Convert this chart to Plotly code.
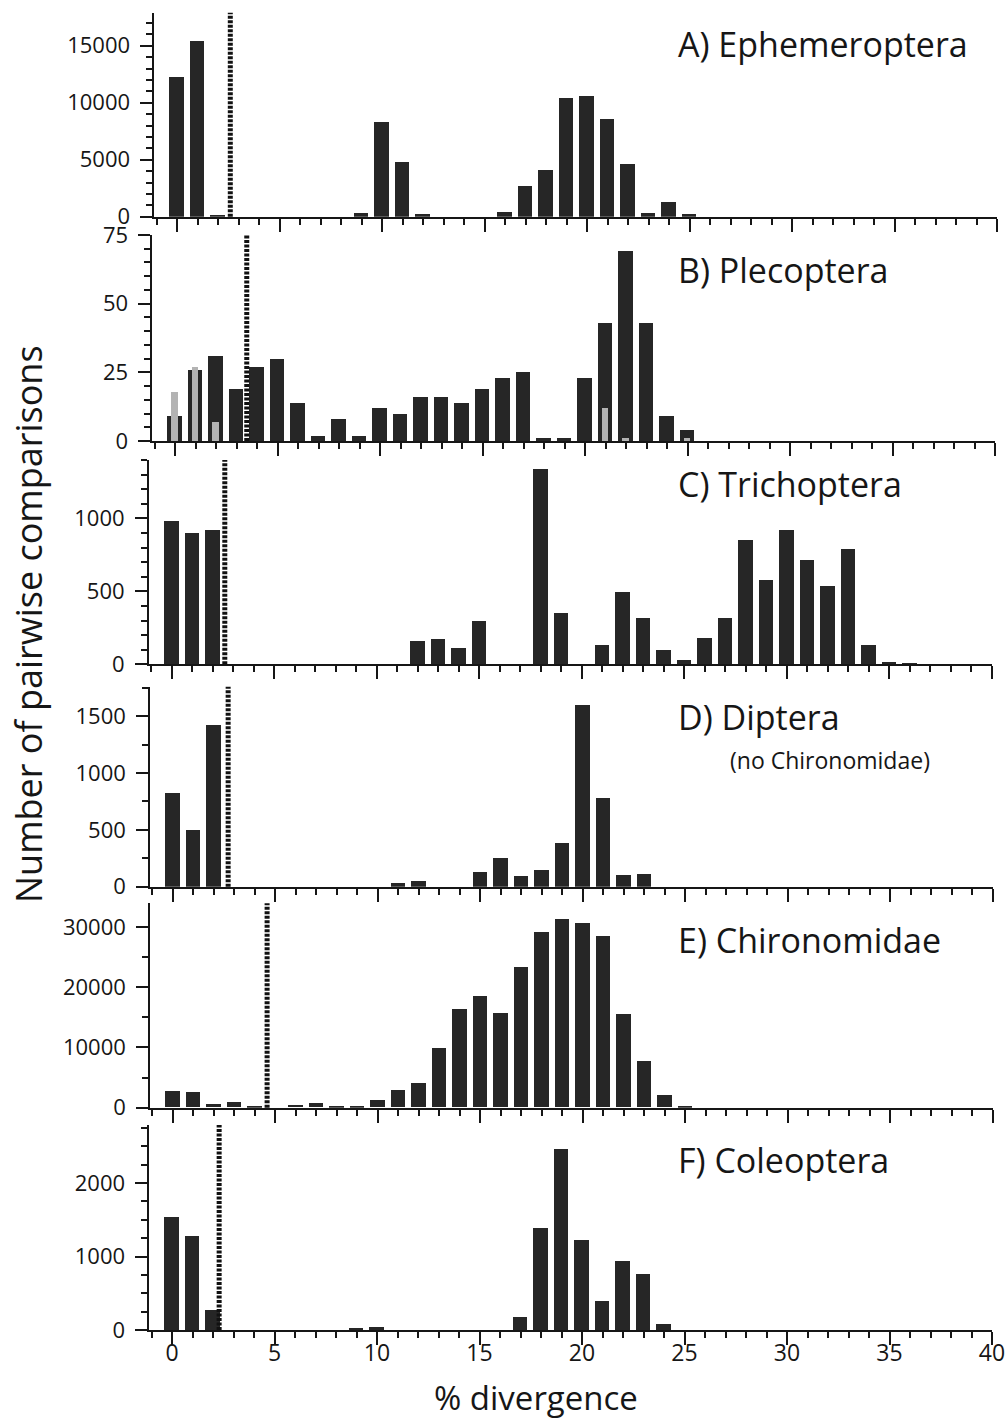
import plotly.graph_objects as go

# ---- pairwise divergence histograms (1 % bins) ----
ephem_bins = [0, 1, 2, 9, 10, 11, 12, 16, 17, 18, 19, 20, 21, 22, 23, 24, 25]
ephem_counts = [12250, 15440, 200, 350, 8360, 4830, 230, 440, 2720, 4150,
                10470, 10640, 8630, 4650, 350, 1290, 230]

plec_bins = list(range(0, 26))
plec_counts = [9, 26, 31, 19, 27, 30, 14, 2, 8, 2, 12, 10, 16, 16, 14, 19,
               23, 25, 1, 1, 23, 43, 69, 43, 9, 4]
plec_sub_bins = [0, 1, 2, 21, 22, 25]
plec_sub_counts = [18, 27, 7, 12, 1, 1]

trich_bins = [0, 1, 2, 12, 13, 14, 15, 18, 19, 21, 22, 23, 24, 25, 26, 27,
              28, 29, 30, 31, 32, 33, 34, 35, 36]
trich_counts = [980, 900, 920, 160, 175, 115, 300, 1340, 350, 135, 495, 320,
                100, 27, 180, 320, 855, 575, 920, 715, 535, 790, 135, 16, 9]

dipt_bins = [0, 1, 2, 11, 12, 15, 16, 17, 18, 19, 20, 21, 22, 23]
dipt_counts = [825, 500, 1430, 32, 50, 130, 255, 100, 150, 385, 1605, 782,
               108, 117]

chiro_bins = [0, 1, 2, 3, 4, 6, 7, 8, 9, 10, 11, 12, 13, 14, 15, 16, 17, 18,
              19, 20, 21, 22, 23, 24, 25]
chiro_counts = [2670, 2500, 610, 890, 80, 390, 720, 80, 220, 1280, 2840, 4120,
                9900, 16360, 18420, 15690, 23320, 29100, 31270, 30660, 28440,
                15530, 7680, 2060, 100]

cole_bins = [0, 1, 2, 9, 10, 17, 18, 19, 20, 21, 22, 23, 24]
cole_counts = [1535, 1275, 275, 23, 37, 174, 1393, 2470, 1224, 393, 945, 758, 87]

# threshold (% divergence) drawn as a dotted line in each panel
thresholds = [2.6, 3.5, 2.6, 2.7, 4.6, 2.3]

panel_titles = ["A) Ephemeroptera", "B) Plecoptera", "C) Trichoptera",
                "D) Diptera", "E) Chironomidae", "F) Coleoptera"]
y_max = [17900, 75, 1400, 1760, 33900, 2790]
y_major = [5000, 25, 500, 500, 10000, 1000]
y_minor = [1000, 5, 100, 250, 5000, 250]
x_tick_labels = ["0", "5", "10", "15", "20", "25", "30", "35", "40"]

series = [
    (ephem_bins, ephem_counts),
    (plec_bins, plec_counts),
    (trich_bins, trich_counts),
    (dipt_bins, dipt_counts),
    (chiro_bins, chiro_counts),
    (cole_bins, cole_counts),
]

# ---- page geometry (pixels) ----
W, H = 1007, 1422
PX_PER_PCT = 20.5
XMIN, XMAX = -1.1, 40
# (pixel of 0 %, pixel row of y = 0, pixel row of top of y axis)
frames = [
    (177.0, 216.7, 12.7),
    (175.0, 441.0, 235.0),
    (171.5, 664.3, 460.0),
    (172.8, 886.7, 686.7),
    (172.8, 1107.7, 903.3),
    (172.0, 1330.0, 1125.0),
]
title_rows = [44, 270, 484, 717, 940, 1160]

FONT = "Open Sans"
INK = "#161616"
BAR = "#262626"
SUB = "#b3b3b3"

fig = go.Figure()
layout = {}
shapes = []
annotations = []

for i, ((bins, counts), frame) in enumerate(zip(series, frames), start=1):
    sx = "" if i == 1 else str(i)
    x0, zero_px, top_px = frame
    left = x0 + XMIN * PX_PER_PCT
    right = x0 + XMAX * PX_PER_PCT

    fig.add_trace(go.Bar(x=bins, y=counts, width=0.7, marker_color=BAR,
                         marker_line_width=0, xaxis="x" + sx, yaxis="y" + sx,
                         showlegend=False, hoverinfo="x+y"))
    if i == 2:
        fig.add_trace(go.Bar(x=plec_sub_bins, y=plec_sub_counts, width=0.33,
                             marker_color=SUB, marker_line_width=0,
                             xaxis="x" + sx, yaxis="y" + sx,
                             showlegend=False, hoverinfo="x+y"))

    last = i == len(series)
    layout["xaxis" + sx] = dict(
        domain=[left / W, right / W], anchor="y" + sx, range=[XMIN, XMAX],
        automargin=False,
        showline=True, linewidth=2, linecolor=INK, mirror=False,
        showgrid=False, zeroline=False,
        ticks="outside", ticklen=13, tickwidth=2, tickcolor=INK,
        tickmode="array", tickvals=[int(t) for t in x_tick_labels],
        ticktext=x_tick_labels, showticklabels=last,
        tickfont=dict(family=FONT, size=23, color=INK),
        ticklabelstandoff=-12,
        minor=dict(dtick=1, tick0=0, ticks="outside", ticklen=6,
                   tickwidth=1.5, tickcolor=INK),
        fixedrange=True,
    )
    layout["yaxis" + sx] = dict(
        domain=[1 - zero_px / H, 1 - top_px / H], anchor="x" + sx,
        range=[0, y_max[i - 1]], automargin=False,
        showline=True, linewidth=2, linecolor=INK,
        showgrid=False, zeroline=False,
        ticks="outside", ticklen=12, tickwidth=2, tickcolor=INK,
        tick0=0, dtick=y_major[i - 1], tickformat="d",
        tickfont=dict(family=FONT, size=22, color=INK),
        ticklabelstandoff=6,
        minor=dict(dtick=y_minor[i - 1], tick0=0, ticks="outside",
                   ticklen=6, tickwidth=1.5, tickcolor=INK),
        fixedrange=True,
    )

    shapes.append(dict(type="line", xref="x" + sx, yref="y" + sx + " domain",
                       x0=thresholds[i - 1], x1=thresholds[i - 1], y0=0, y1=1,
                       line=dict(color="#111111", width=5, dash="3px,1.5px"),
                       layer="above"))

    annotations.append(dict(text=panel_titles[i - 1], xref="paper", yref="paper",
                            x=676 / W, y=1 - title_rows[i - 1] / H,
                            xanchor="left", yanchor="middle", showarrow=False,
                            font=dict(family=FONT, size=34, color=INK)))

annotations.append(dict(text="(no Chironomidae)", xref="paper", yref="paper",
                        x=728 / W, y=1 - 760 / H, xanchor="left",
                        yanchor="middle", showarrow=False,
                        font=dict(family=FONT, size=23, color=INK)))
annotations.append(dict(text="Number of pairwise comparisons", xref="paper",
                        yref="paper", x=28 / W, y=1 - 624 / H, textangle=-90,
                        xanchor="center", yanchor="middle", showarrow=False,
                        font=dict(family=FONT, size=36, color=INK)))
annotations.append(dict(text="% divergence", xref="paper", yref="paper",
                        x=536 / W, y=1 - 1397 / H, xanchor="center",
                        yanchor="middle", showarrow=False,
                        font=dict(family=FONT, size=33, color=INK)))

fig.update_layout(
    template="none",
    width=W, height=H, autosize=False,
    margin=dict(l=0, r=0, t=0, b=0, pad=0),
    paper_bgcolor="white", plot_bgcolor="white",
    barmode="overlay", bargap=0, showlegend=False,
    font=dict(family=FONT, color=INK),
    shapes=shapes, annotations=annotations,
    **layout,
)

fig.write_html("out.html", config={"displayModeBar": False})
